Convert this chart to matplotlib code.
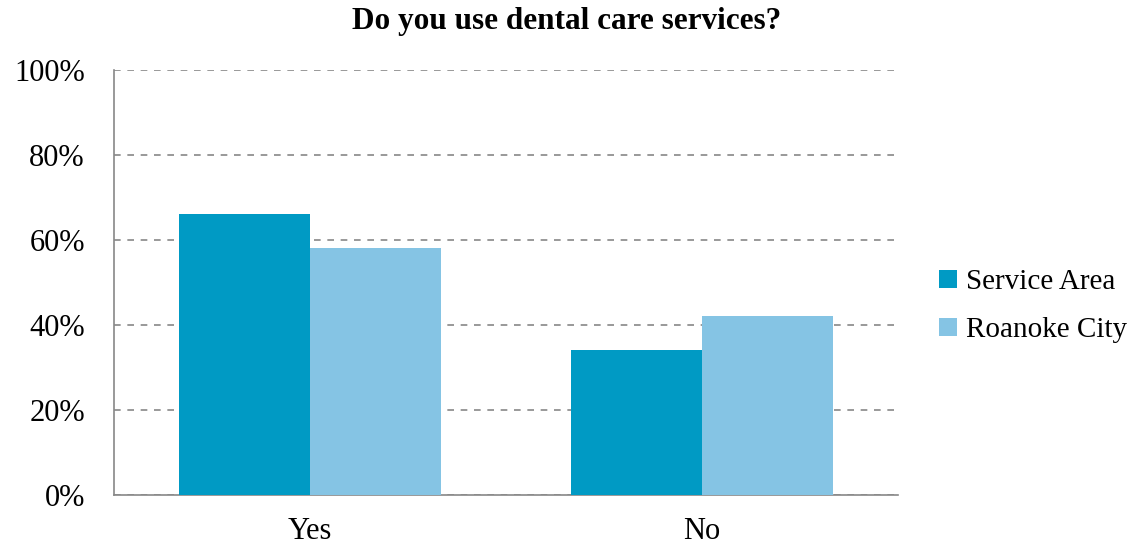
import matplotlib
matplotlib.use('Agg')
import numpy as np
import matplotlib.pyplot as plt
from matplotlib.ticker import FuncFormatter

categories = ['Yes', 'No']
service_area = [66, 34]
roanoke_city = [58, 42]
series_names = ['Service Area', 'Roanoke City']
colors = ['#009AC4', '#85C4E4']

plt.rcParams['font.family'] = ['Liberation Serif', 'DejaVu Serif']

fig = plt.figure(figsize=(11.33, 5.47), dpi=100)
ax = fig.add_axes([0.1006, 0.0951, 0.692, 0.777])

x = np.arange(len(categories))
w = 1 / 3
ax.bar(x - w / 2, service_area, w, color=colors[0], label=series_names[0], zorder=3)
ax.bar(x + w / 2, roanoke_city, w, color=colors[1], label=series_names[1], zorder=3)

ax.set_xlim(-0.5, 1.5)
ax.set_ylim(0, 100)
ax.set_yticks(range(0, 101, 20))
ax.yaxis.set_major_formatter(FuncFormatter(lambda v, p: '%d%%' % v))
ax.set_xticks(x)
ax.set_xticklabels(categories)
ax.tick_params(axis='both', labelsize=22, length=0)
ax.tick_params(axis='x', pad=16)
ax.tick_params(axis='y', pad=21)

ax.grid(axis='y', color='#888888', linestyle=(0, (4, 4)), linewidth=1.2, zorder=0)
for s in ['top', 'right']:
    ax.spines[s].set_visible(False)
for s in ['left', 'bottom']:
    ax.spines[s].set_color('#888888')
    ax.spines[s].set_linewidth(1.2)

fig.text(0.5, 0.96, 'Do you use dental care services?', ha='center', va='center',
         fontsize=22.5, fontweight='bold')

fig.legend(loc='center left', bbox_to_anchor=(0.806, 0.44), frameon=False,
           fontsize=21, handlelength=0.6, handleheight=0.6, handletextpad=0.3,
           labelspacing=0.75)

fig.savefig('out.png', dpi=100)
